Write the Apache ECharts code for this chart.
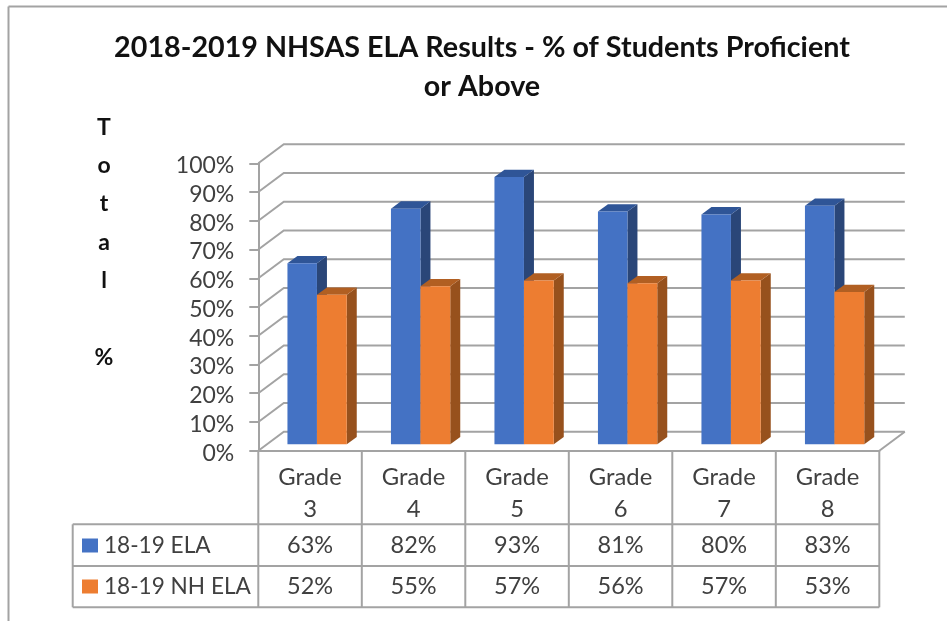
<!DOCTYPE html>
<html>
<head>
<meta charset="utf-8">
<style>html,body{margin:0;padding:0;background:#fff}#c{width:947px;height:621px}</style>
<script src="https://cdn.jsdelivr.net/npm/echarts@6/dist/echarts.min.js"></script>
</head>
<body>
<div id="c"></div>
<script>
const categories = ['Grade 3','Grade 4','Grade 5','Grade 6','Grade 7','Grade 8'];
const elaName = '18-19 ELA';
const nhName = '18-19 NH ELA';
const elaValues = [63,82,93,81,80,83];
const nhValues = [52,55,57,56,57,53];
const yTicks = [0,10,20,30,40,50,60,70,80,90,100];
const titleText = '2018-2019 NHSAS ELA Results - % of Students Proficient\nor Above';
const yTitle = 'T\no\nt\na\nl\n\n%';

const FONT = 'Lato';
const GRID_COLOR = '#a3a3a3';
const TEXT_COLOR = '#404040';
const L = 258.3, R = 879.3, T = 163.3, B = 450.7;
const ROW1 = 524.3, ROW2 = 566, ROW3 = 607.3, TABLE_LEFT = 72.7;
const WALL_DX = 25.5, WALL_DY = -19;
const BAR_DX = 6.9, BAR_DY = -6.4, SIDE_DX = 10, SIDE_DY = -7.3;

const chart = echarts.init(document.getElementById('c'), null, {renderer:'canvas', width:947, height:621});

function wallItem(params, api){
  const v = api.value(1);
  const p = api.coord([0, v]);
  const band = api.size([1, 0])[0];
  const x0 = p[0] - band/2;
  const x1 = api.coord([categories.length-1, v])[0] + band/2;
  const style = {stroke: GRID_COLOR, lineWidth: 2, fill: null};
  const children = [{type:'polyline', shape:{points:[[x0,p[1]],[x0+WALL_DX,p[1]+WALL_DY],[x1+WALL_DX,p[1]+WALL_DY]]}, style}];
  if (v === 0) children.push({type:'line', shape:{x1:x1,y1:p[1],x2:x1+WALL_DX,y2:p[1]+WALL_DY}, style});
  return {type:'group', children};
}

function barItem(from, to, front, top, side){
  return function(params, api){
    const i = api.value(0);
    const pt = api.coord([i, api.value(1)]);
    const pb = api.coord([i, 0]);
    const xl = pt[0] + from, xr = pt[0] + to;
    const yt = pt[1] + BAR_DY, yb = pb[1] + BAR_DY;
    return {type:'group', children:[
      {type:'polygon', shape:{points:[[xr,yt],[xr+SIDE_DX,yt+SIDE_DY],[xr+SIDE_DX,yb+SIDE_DY],[xr,yb]]}, style:{fill:side}},
      {type:'polygon', shape:{points:[[xl,yt],[xr,yt],[xr+SIDE_DX,yt+SIDE_DY],[xl+SIDE_DX,yt+SIDE_DY]]}, style:{fill:top}},
      {type:'rect', shape:{x:xl,y:yt,width:xr-xl,height:yb-yt}, style:{fill:front}}
    ]};
  };
}

function tableItem(params, api){
  const i = api.value(0);
  const x = api.coord([i, 0])[0];
  const band = api.size([1, 0])[0];
  const cell = (t, y) => ({type:'text', x:x, y:y, style:{text:t, x:0, y:0, font:'23.5px '+FONT, fill:TEXT_COLOR, textAlign:'center', textVerticalAlign:'middle'}});
  const style = {stroke: GRID_COLOR, lineWidth: 2};
  const xr = x + band/2;
  return {type:'group', children:[
    {type:'line', shape:{x1:xr,y1:B,x2:xr,y2:ROW3}, style},
    cell(elaValues[i]+'%', 545),
    cell(nhValues[i]+'%', 586.5)
  ]};
}

const hLine = (x1,y,x2) => ({type:'line', silent:true, shape:{x1:x1,y1:y,x2:x2,y2:y}, style:{stroke:GRID_COLOR, lineWidth:2}});
const vLine = (x,y1,y2) => ({type:'line', silent:true, shape:{x1:x,y1:y1,x2:x,y2:y2}, style:{stroke:GRID_COLOR, lineWidth:2}});

chart.setOption({
  animation:false,
  backgroundColor:'#fff',
  textStyle:{fontFamily:FONT},
  title:[
    {text:titleText, left:477, top:23, textAlign:'center',
     textStyle:{fontFamily:FONT, fontWeight:'bold', fontSize:28.7, lineHeight:39, color:'#111111'}},
    {text:yTitle, left:99, top:103, textAlign:'center',
     textStyle:{fontFamily:FONT, fontWeight:'bold', fontSize:23, lineHeight:38.4, color:'#111111'}}
  ],
  legend:{
    orient:'vertical', left:82, top:534, itemWidth:16, itemHeight:14, itemGap:18, selectedMode:false,
    icon:'rect', padding:0,
    data:[elaName, nhName],
    textStyle:{fontFamily:FONT, fontSize:22.6, color:TEXT_COLOR, padding:[0,0,0,1]}
  },
  grid:{left:L, top:T, width:R-L, height:B-T, containLabel:false},
  xAxis:{
    type:'category', data:categories,
    axisLine:{lineStyle:{color:GRID_COLOR, width:2}},
    axisTick:{show:false},
    axisLabel:{margin:11, interval:0, fontFamily:FONT, fontSize:23.8, lineHeight:32, color:TEXT_COLOR,
      formatter:s=>s.replace(' ','\n')},
    splitLine:{show:false}
  },
  yAxis:{
    type:'value', min:0, max:100, interval:10,
    axisLine:{show:true, lineStyle:{color:GRID_COLOR, width:2}},
    axisTick:{show:true, length:9, lineStyle:{color:GRID_COLOR, width:2}},
    axisLabel:{margin:24, formatter:'{t|{value}%}',
      rich:{t:{fontFamily:FONT, fontSize:23, color:TEXT_COLOR, padding:[5,0,0,0]}}},
    splitLine:{show:false}
  },
  series:[
    {type:'custom', name:'walls', silent:true, z:1, renderItem:wallItem, data:yTicks.map(v=>[0,v]), encode:{x:0,y:1}},
    {type:'custom', name:elaName, z:2, itemStyle:{color:'#4472C4'},
     renderItem:barItem(BAR_DX-29.5, BAR_DX, '#4472C4', '#2F5597', '#2A4678'),
     data:elaValues.map((v,i)=>[i,v]), encode:{x:0,y:1}},
    {type:'custom', name:nhName, z:3, itemStyle:{color:'#ED7D31'},
     renderItem:barItem(BAR_DX, BAR_DX+29.8, '#ED7D31', '#B15F22', '#97511D'),
     data:nhValues.map((v,i)=>[i,v]), encode:{x:0,y:1}},
    {type:'custom', name:'table', silent:true, z:4, renderItem:tableItem, data:categories.map((c,i)=>[i,0]), encode:{x:0,y:1}}
  ],
  graphic:[
    hLine(8.5,6.5,947),
    vLine(8.5,6.5,621),
    hLine(L,ROW1,R),
    hLine(TABLE_LEFT,ROW1,L),
    hLine(TABLE_LEFT,ROW2,R),
    hLine(TABLE_LEFT,ROW3,R),
    vLine(TABLE_LEFT,ROW1,ROW3),
    vLine(L,B,ROW3)
  ]
});
</script>
</body>
</html>
